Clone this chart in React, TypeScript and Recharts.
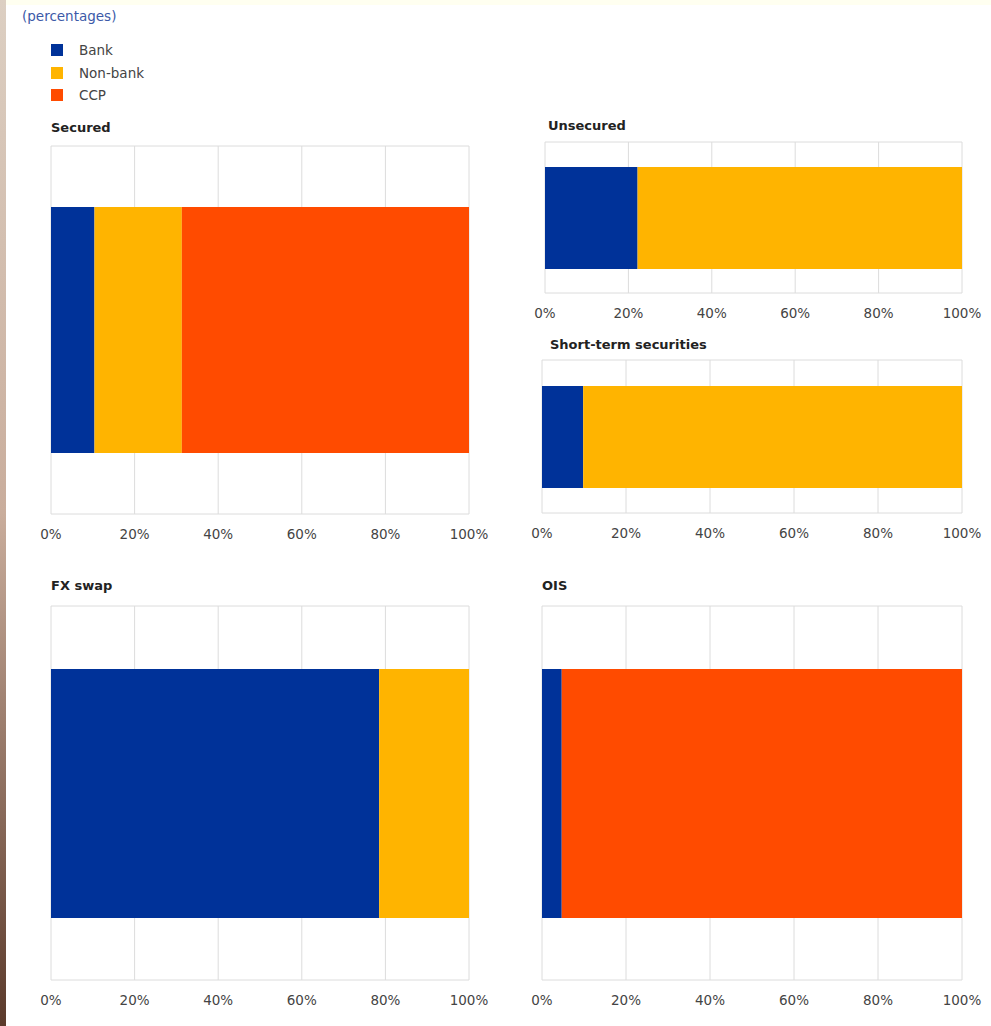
import React from "react";
import { BarChart, Bar, XAxis, YAxis, CartesianGrid } from "recharts";

const SERIES = ["Bank", "Non-bank", "CCP"];
const COLORS = ["#003299", "#ffb400", "#ff4b00"];
const TICKS = [0, 20, 40, 60, 80, 100];

// shares of turnover by counterparty type, per market segment
const SECURED = [10.4, 20.9, 68.7];
const UNSECURED = [22.2, 77.8, 0];
const SHORT_TERM = [9.8, 90.2, 0];
const FX_SWAP = [78.5, 21.5, 0];
const OIS = [4.7, 0, 95.3];

type Panel = {
  title: string;
  values: number[];
  left: number;
  right: number;
  top: number;
  bottom: number;
  barTop: number;
  barBottom: number;
  titleX: number;
  titleY: number;
};

const PANELS: Panel[] = [
  { title: "Secured", values: SECURED, left: 51, right: 469, top: 146, bottom: 514, barTop: 207, barBottom: 453, titleX: 51, titleY: 120 },
  { title: "Unsecured", values: UNSECURED, left: 545, right: 962, top: 142, bottom: 293, barTop: 167, barBottom: 269, titleX: 548, titleY: 118 },
  { title: "Short-term securities", values: SHORT_TERM, left: 542, right: 962, top: 360, bottom: 513, barTop: 386, barBottom: 488, titleX: 550, titleY: 337 },
  { title: "FX swap", values: FX_SWAP, left: 51, right: 469, top: 606, bottom: 980, barTop: 669, barBottom: 918, titleX: 51, titleY: 578 },
  { title: "OIS", values: OIS, left: 542, right: 962, top: 606, bottom: 980, barTop: 669, barBottom: 918, titleX: 542, titleY: 578 },
];

const FONT = "'DejaVu Sans', Verdana, sans-serif";
const SIDE = 30;
const TOP_PAD = 2;
const AXIS_H = 34;

function SegmentChart({ p }: { p: Panel }) {
  const row: Record<string, number | string> = { name: p.title };
  SERIES.forEach((s, i) => (row[s] = p.values[i]));
  const plotW = p.right - p.left;
  const plotH = p.bottom - p.top;
  return (
    <>
      <div
        style={{
          position: "absolute",
          left: p.titleX,
          top: p.titleY,
          fontFamily: FONT,
          fontSize: 13,
          fontWeight: "bold",
          color: "#222",
          whiteSpace: "nowrap",
        }}
      >
        {p.title}
      </div>
      <div style={{ position: "absolute", left: p.left - SIDE, top: p.top - TOP_PAD }}>
        <BarChart
          width={plotW + SIDE * 2}
          height={plotH + TOP_PAD + AXIS_H}
          data={[row]}
          layout="vertical"
          margin={{ top: TOP_PAD, right: SIDE, bottom: 0, left: SIDE }}
        >
          <CartesianGrid
            stroke="#dcdcdc"
            horizontalCoordinatesGenerator={({ offset }: any) => [offset.top, offset.top + offset.height]}
          />
          <XAxis
            type="number"
            domain={[0, 100]}
            ticks={TICKS}
            interval={0}
            tickFormatter={(v: number) => `${v}%`}
            axisLine={false}
            tickLine={false}
            tickMargin={9}
            height={AXIS_H}
            tick={{ fill: "#444", fontSize: 13.5, fontFamily: FONT }}
          />
          <YAxis type="category" dataKey="name" hide />
          {SERIES.map((s, i) => (
            <Bar
              key={s}
              dataKey={s}
              stackId="a"
              fill={COLORS[i]}
              barSize={p.barBottom - p.barTop}
              isAnimationActive={false}
            />
          ))}
        </BarChart>
      </div>
    </>
  );
}

export default function App() {
  return (
    <div
      style={{
        position: "absolute",
        left: 0,
        top: 0,
        width: 991,
        height: 1026,
        background: "#fff",
        overflow: "hidden",
        fontFamily: FONT,
      }}
    >
      <div style={{ position: "absolute", left: 0, top: 0, width: 991, height: 5, background: "#fffff0" }} />
      <div
        style={{
          position: "absolute",
          left: 0,
          top: 0,
          width: 6,
          height: 1026,
          background: "linear-gradient(#dccfc2, #c9ad9c 50%, #5b3a2b)",
        }}
      />
      <div style={{ position: "absolute", left: 22, top: 8, fontSize: 13.5, color: "#3c5aa8" }}>(percentages)</div>
      {SERIES.map((s, i) => (
        <div
          key={s}
          style={{ position: "absolute", left: 51, top: 42 + i * 22.5, display: "flex", alignItems: "center" }}
        >
          <div style={{ width: 12, height: 12, background: COLORS[i] }} />
          <span style={{ marginLeft: 16, fontSize: 13.5, color: "#444" }}>{s}</span>
        </div>
      ))}
      {PANELS.map((p) => (
        <SegmentChart key={p.title} p={p} />
      ))}
    </div>
  );
}
